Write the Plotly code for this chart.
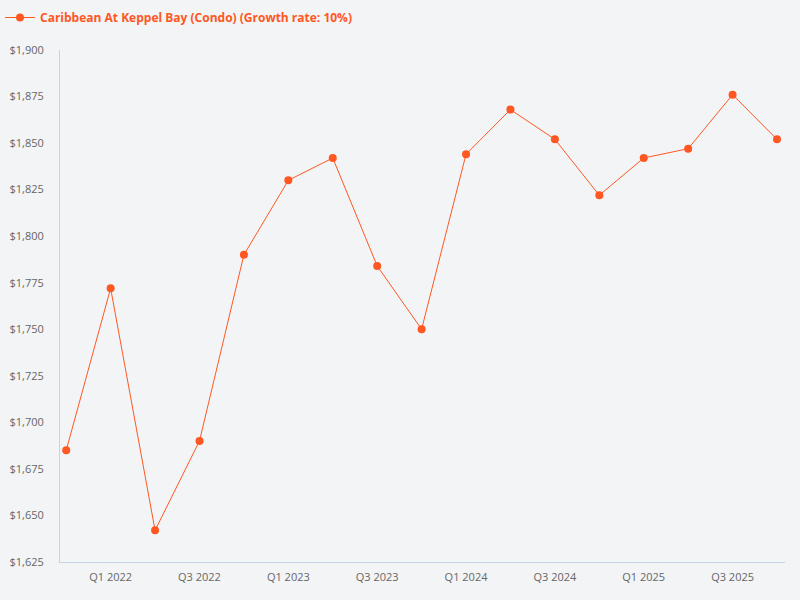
import plotly.graph_objects as go

quarters = ["Q4 2021", "Q1 2022", "Q2 2022", "Q3 2022", "Q4 2022", "Q1 2023", "Q2 2023",
            "Q3 2023", "Q4 2023", "Q1 2024", "Q2 2024", "Q3 2024", "Q4 2024", "Q1 2025",
            "Q2 2025", "Q3 2025", "Q4 2025"]
prices = [1685, 1772, 1642, 1690, 1790, 1830, 1842, 1784, 1750, 1844, 1868, 1852, 1822,
          1842, 1847, 1876, 1852]
series_name = "Caribbean At Keppel Bay (Condo) (Growth rate: 10%)"
tick_labels = ["Q1 2022", "Q3 2022", "Q1 2023", "Q3 2023", "Q1 2024", "Q3 2024", "Q1 2025", "Q3 2025"]
y_ticks = [1625, 1650, 1675, 1700, 1725, 1750, 1775, 1800, 1825, 1850, 1875, 1900]

color = "#FF5722"
x_idx = list(range(len(quarters)))
tick_pos = [quarters.index(t) for t in tick_labels]

fig = go.Figure()
fig.add_trace(go.Scatter(
    x=x_idx, y=prices, mode="lines+markers", name=series_name,
    line=dict(color=color, width=1),
    marker=dict(color=color, size=8),
))

fig.update_layout(
    width=800, height=600,
    paper_bgcolor="#F3F4F6", plot_bgcolor="#F3F4F6",
    margin=dict(l=60, r=15, t=50, b=38, autoexpand=False),
    font=dict(family="Open Sans", color="#666666", size=11),
    showlegend=True,
    legend=dict(orientation="h", x=-0.035, y=0.995, xref="container", yref="container",
                xanchor="left", yanchor="top",
                font=dict(color=color, size=12, weight="bold"),
                bgcolor="rgba(0,0,0,0)", itemwidth=30),
)
fig.update_xaxes(
    range=[-0.14, 16.18], tickmode="array", tickvals=tick_pos, ticktext=tick_labels,
    showgrid=False, zeroline=False, showline=True, linecolor="#C8D4E6", linewidth=1,
    ticks="", tickfont=dict(size=11, color="#666666"), ticklabelstandoff=5,
    automargin=False,
)
fig.update_yaxes(
    range=[1625, 1900], tickmode="array", tickvals=y_ticks,
    ticktext=[f"${v:,}" for v in y_ticks],
    showgrid=False, zeroline=False, showline=True, linecolor="#C8D4E6", linewidth=1,
    ticks="", tickfont=dict(size=11, color="#666666"), ticklabelstandoff=13,
    automargin=False,
)

fig.write_html("out.html", config={"displayModeBar": False},
               post_script="document.body.style.margin='0';document.body.style.background='#F3F4F6';")
